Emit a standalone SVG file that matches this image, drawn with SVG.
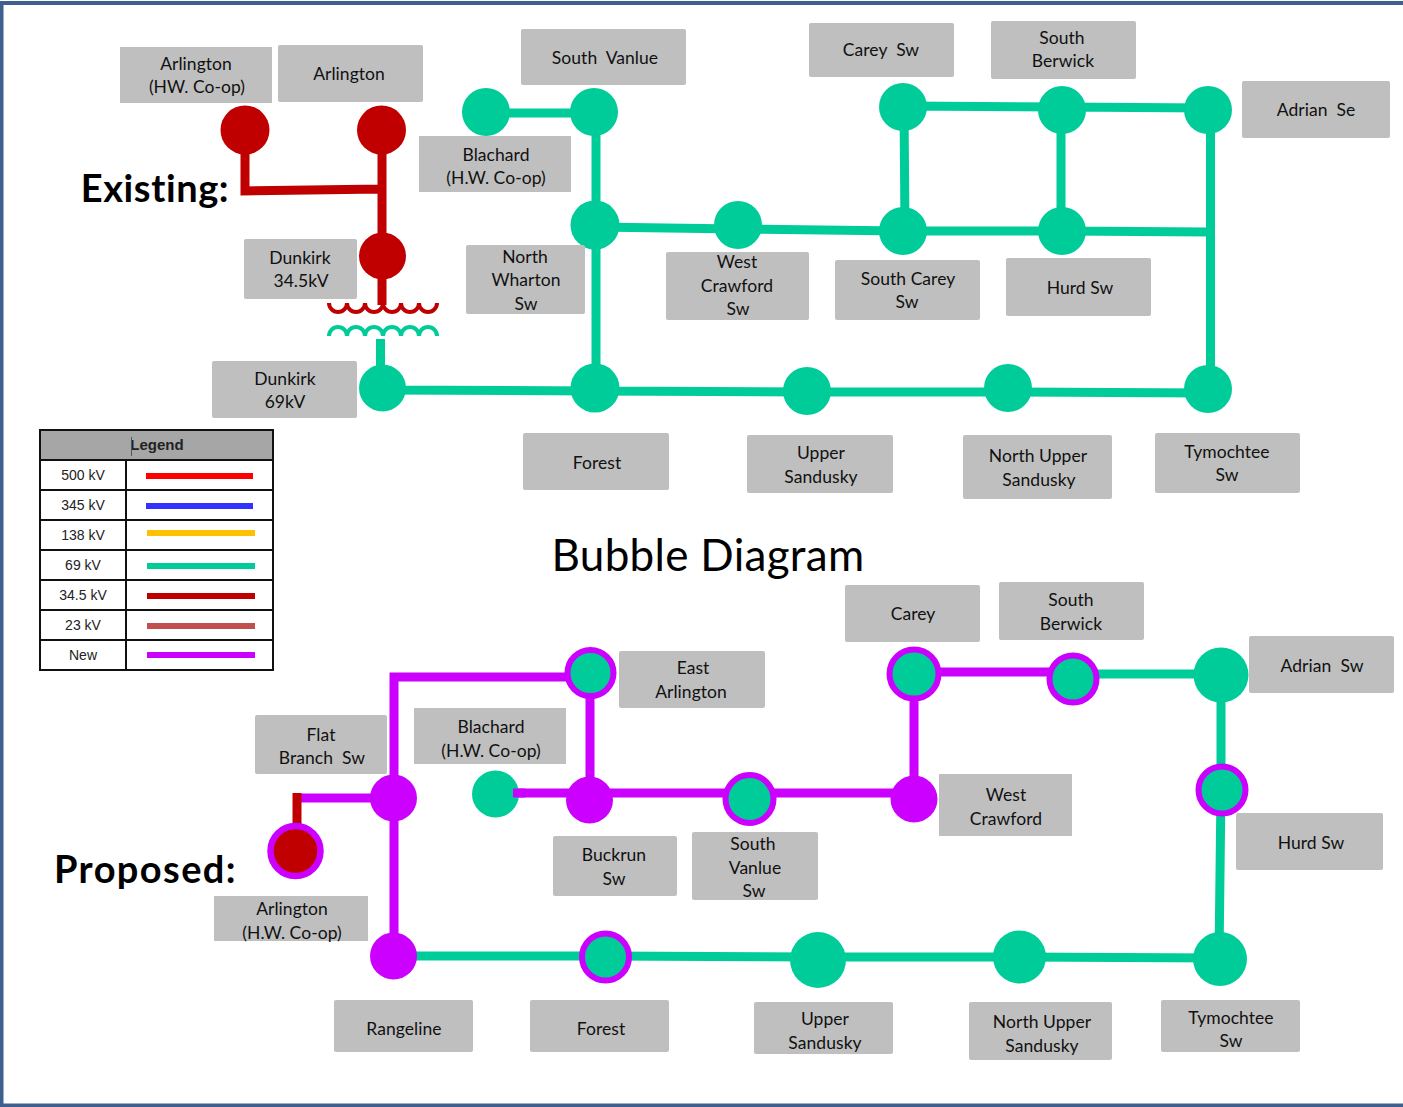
<svg xmlns="http://www.w3.org/2000/svg" width="1403" height="1107" viewBox="0 0 1403 1107">
<style>
.lb{fill:#bfbfbf}
text{font-family:Lato,"Noto Sans",sans-serif;font-size:17.5px;letter-spacing:.05px;fill:#111;text-anchor:middle;white-space:pre}
.h{font-family:Lato,"Noto Sans",sans-serif;font-weight:700;font-size:38px;letter-spacing:.6px;fill:#000}
.g{stroke:#00cc99;stroke-width:9;fill:none}
.m{stroke:#cc00ff;stroke-width:9;fill:none}
.r{stroke:#c00000;stroke-width:9;fill:none}
.cg{fill:#00cc99}.cm{fill:#cc00ff}.cr{fill:#c00000}
.ring{fill:#00cc99;stroke:#cc00ff;stroke-width:6}
.lg text{font-family:"Liberation Sans",sans-serif;font-size:14px;letter-spacing:0;fill:#222}
.lg line{stroke-width:6}
.cell{fill:#fff;stroke:#111;stroke-width:2}
</style>
<rect width="1403" height="1107" fill="#fff"/>
<path d="M1.500 1107V3H1403M0 1105.500H1403" fill="none" stroke="#3f5f8f" stroke-width="4"/>
<g id="connectors">
<path class="r" d="M245 129V191L382 189M382 129V305"/>
<path class="r" style="stroke-width:4" d="M329 303a9 9 0 0 0 18 0a9 9 0 0 0 18 0a9 9 0 0 0 18 0a9 9 0 0 0 18 0a9 9 0 0 0 18 0a9 9 0 0 0 18 0"/>
<path class="g" style="stroke-width:4" d="M329 336a9 9 0 0 1 18 0a9 9 0 0 1 18 0a9 9 0 0 1 18 0a9 9 0 0 1 18 0a9 9 0 0 1 18 0a9 9 0 0 1 18 0"/>
<path class="g" d="M380.500 339V388M382 390L595 391L807 392L1008 392L1208 393M1210.500 392V110M486 113L594 113M596 112V390M595 227L738 229L903 231L1062 231L1210 232M903 106L1062 107L1208 108M904 106L905 231M1061 110V231"/>
<path class="g" d="M393 956L605 956L818 957L1019 957L1220 958M1219 958L1221 790M1221 790V675M1072 674H1222"/>
<path class="m" d="M394 798V677H590M590 672V800M515 793H914M914 797V673M913 672H1072M394 798V956M298 798H393"/>
<path class="r" d="M297 793V851"/>
</g>
<g id="n-arl-hw"><circle class="cr" cx="245" cy="130" r="24.500"/><rect class="lb" x="120" y="47" width="152" height="56"/><text x="196" y="70">Arlington</text><text x="197" y="93">(HW. Co-op)</text></g>
<g id="n-arl"><circle class="cr" cx="381.500" cy="130" r="24.500"/><rect class="lb" x="278" y="45" width="145" height="57" rx="2"/><text x="349" y="80">Arlington</text></g>
<g id="n-dk34"><circle class="cr" cx="382.500" cy="256" r="23.500"/><rect class="lb" x="244" y="239" width="113" height="60" rx="2"/><text x="300" y="264">Dunkirk</text><text x="301" y="287">34.5kV</text></g>
<g id="n-dk69"><circle class="cg" cx="382.500" cy="388" r="23.500"/><rect class="lb" x="212" y="361" width="145" height="57" rx="2"/><text x="285" y="385">Dunkirk</text><text x="285" y="408">69kV</text></g>
<g id="n-svan"><circle class="cg" cx="594" cy="112" r="24"/><rect class="lb" x="521" y="29" width="165" height="56" rx="2"/><text x="605" y="64">South  Vanlue</text></g>
<g id="n-blach"><circle class="cg" cx="486" cy="112" r="24"/><rect class="lb" x="419" y="136" width="152" height="56"/><text x="496" y="161">Blachard</text><text x="496" y="184">(H.W. Co-op)</text></g>
<g id="n-nw"><circle class="cg" cx="595" cy="225" r="24.500"/><rect class="lb" x="466" y="245" width="119" height="69" rx="2"/><text x="525" y="263">North</text><text x="526" y="286">Wharton</text><text x="526" y="310">Sw</text></g>
<g id="n-wc"><circle class="cg" cx="738" cy="225" r="24"/><rect class="lb" x="666" y="252" width="143" height="68" rx="2"/><text x="737" y="268">West</text><text x="737" y="292">Crawford</text><text x="738" y="315">Sw</text></g>
<g id="n-sc"><circle class="cg" cx="903" cy="231" r="24"/><rect class="lb" x="835" y="260" width="145" height="60" rx="2"/><text x="908" y="285">South Carey</text><text x="907" y="308">Sw</text></g>
<g id="n-hurd"><circle class="cg" cx="1062" cy="231" r="24"/><rect class="lb" x="1006" y="258" width="145" height="58" rx="2"/><text x="1080" y="294">Hurd Sw</text></g>
<g id="n-careysw"><circle class="cg" cx="903" cy="107" r="24"/><rect class="lb" x="809" y="23" width="145" height="54" rx="2"/><text x="881" y="56">Carey  Sw</text></g>
<g id="n-sb"><circle class="cg" cx="1062" cy="110" r="24"/><rect class="lb" x="991" y="21" width="145" height="58" rx="2"/><text x="1062" y="44">South</text><text x="1063" y="67">Berwick</text></g>
<g id="n-adse"><circle class="cg" cx="1208" cy="110" r="24"/><rect class="lb" x="1242" y="81" width="148" height="57" rx="2"/><text x="1316" y="116">Adrian  Se</text></g>
<g id="n-forest"><circle class="cg" cx="595" cy="388" r="24.500"/><rect class="lb" x="523" y="433" width="146" height="57" rx="2"/><text x="597" y="469">Forest</text></g>
<g id="n-us"><circle class="cg" cx="807" cy="391" r="24"/><rect class="lb" x="747" y="435" width="146" height="58" rx="2"/><text x="821" y="459">Upper</text><text x="821" y="483">Sandusky</text></g>
<g id="n-nus"><circle class="cg" cx="1008" cy="388" r="24"/><rect class="lb" x="963" y="435" width="149" height="64" rx="2"/><text x="1038" y="462">North Upper</text><text x="1039" y="486">Sandusky</text></g>
<g id="n-ty"><circle class="cg" cx="1208" cy="389" r="24"/><rect class="lb" x="1155" y="433" width="145" height="60" rx="2"/><text x="1227" y="458">Tymochtee</text><text x="1227" y="481">Sw</text></g>
<text class="h" x="155" y="202">Existing:</text>
<text x="708" y="571" style="font-size:44px;letter-spacing:.3px;fill:#000">Bubble Diagram</text>
<text class="h" x="145.500" y="883" style="letter-spacing:1.4px">Proposed:</text>
<g id="legend" class="lg">
<rect x="40" y="430" width="233" height="30" fill="#a6a6a6" stroke="#111" stroke-width="2"/>
<text x="157" y="450" style="font-weight:700;font-size:15px">Legend</text>
<path d="M131.500 437V456" stroke="#555" stroke-width="1"/>
<rect class="cell" x="40" y="460" width="233" height="30"/><rect class="cell" x="40" y="490" width="233" height="30"/><rect class="cell" x="40" y="520" width="233" height="30"/><rect class="cell" x="40" y="550" width="233" height="30"/><rect class="cell" x="40" y="580" width="233" height="30"/><rect class="cell" x="40" y="610" width="233" height="30"/><rect class="cell" x="40" y="640" width="233" height="30"/>
<path d="M126 460V670" stroke="#111" stroke-width="2"/>
<text x="83" y="480">500 kV</text><line x1="146" x2="253" y1="476" y2="476" stroke="#ff0000"/>
<text x="83" y="510">345 kV</text><line x1="146" x2="253" y1="506" y2="506" stroke="#3333ff"/>
<text x="83" y="540">138 kV</text><line x1="147" x2="255" y1="533" y2="533" stroke="#ffc000"/>
<text x="83" y="570">69 kV</text><line x1="147" x2="255" y1="566" y2="566" stroke="#00cc99"/>
<text x="83" y="600">34.5 kV</text><line x1="147" x2="255" y1="596" y2="596" stroke="#c00000"/>
<text x="83" y="630">23 kV</text><line x1="147" x2="255" y1="626" y2="626" stroke="#c0504d"/>
<text x="83" y="660">New</text><line x1="147" x2="255" y1="655" y2="655" stroke="#cc00ff"/>
</g>
<g id="p-ea"><circle class="ring" cx="590.500" cy="673" r="23"/><rect class="lb" x="619" y="651" width="146" height="57" rx="2"/><text x="693" y="674">East</text><text x="691" y="698">Arlington</text></g>
<g id="p-carey"><circle class="ring" cx="914" cy="674" r="24.500"/><rect class="lb" x="845" y="585" width="135" height="57" rx="2"/><text x="913" y="620">Carey</text></g>
<g id="p-sb"><circle class="ring" cx="1073" cy="679" r="23.500"/><rect class="lb" x="999" y="582" width="145" height="58" rx="2"/><text x="1071" y="606">South</text><text x="1071" y="630">Berwick</text></g>
<g id="p-ad"><circle class="cg" cx="1221" cy="675" r="27.500"/><rect class="lb" x="1249" y="636" width="145" height="57" rx="2"/><text x="1322" y="672">Adrian  Sw</text></g>
<g id="p-hurd"><circle class="ring" cx="1222" cy="790" r="23.500"/><rect class="lb" x="1236" y="813" width="147" height="57" rx="2"/><text x="1311" y="849">Hurd Sw</text></g>
<g id="p-flat"><circle class="cm" cx="393.500" cy="798" r="23.500"/><rect class="lb" x="255" y="715" width="132" height="59" rx="2"/><text x="321" y="741">Flat</text><text x="322" y="764">Branch  Sw</text></g>
<g id="p-bl"><circle class="cg" cx="495.500" cy="794" r="23.500"/><path class="m" d="M513 793H525"/><rect class="lb" x="414" y="708" width="152" height="56"/><text x="491" y="733">Blachard</text><text x="491" y="757">(H.W. Co-op)</text></g>
<g id="p-buck"><circle class="cm" cx="589.500" cy="800" r="23.500"/><rect class="lb" x="553" y="836" width="124" height="60" rx="2"/><text x="614" y="861">Buckrun</text><text x="614" y="885">Sw</text></g>
<g id="p-sv"><circle class="ring" cx="749.500" cy="799" r="24"/><rect class="lb" x="692" y="832" width="126" height="68" rx="2"/><text x="753" y="850">South</text><text x="755" y="874">Vanlue</text><text x="754" y="897">Sw</text></g>
<g id="p-wc"><circle class="cm" cx="914" cy="799" r="23.500"/><rect class="lb" x="939" y="774" width="133" height="62"/><text x="1006" y="801">West</text><text x="1006" y="825">Crawford</text></g>
<g id="p-arl"><circle cx="295.500" cy="851" r="25" fill="#c00000" stroke="#cc00ff" stroke-width="6.500"/><rect class="lb" x="214" y="896" width="154" height="45"/><text x="292" y="915">Arlington</text><text x="292" y="939">(H.W. Co-op)</text></g>
<g id="p-rl"><circle class="cm" cx="393.500" cy="956" r="23.500"/><rect class="lb" x="334" y="1000" width="139" height="52" rx="2"/><text x="404" y="1035">Rangeline</text></g>
<g id="p-fo"><circle class="ring" cx="605.500" cy="957" r="23.500"/><rect class="lb" x="530" y="1000" width="139" height="52" rx="2"/><text x="601" y="1035">Forest</text></g>
<g id="p-us"><circle class="cg" cx="818" cy="960" r="28"/><rect class="lb" x="754" y="1002" width="139" height="52" rx="2"/><text x="825" y="1025">Upper</text><text x="825" y="1049">Sandusky</text></g>
<g id="p-nus"><circle class="cg" cx="1019.500" cy="957" r="26.500"/><rect class="lb" x="969" y="1002" width="143" height="58" rx="2"/><text x="1042" y="1028">North Upper</text><text x="1042" y="1052">Sandusky</text></g>
<g id="p-ty"><circle class="cg" cx="1220" cy="959" r="27"/><rect class="lb" x="1161" y="1000" width="139" height="52" rx="2"/><text x="1231" y="1024">Tymochtee</text><text x="1231" y="1047">Sw</text></g>
</svg>
